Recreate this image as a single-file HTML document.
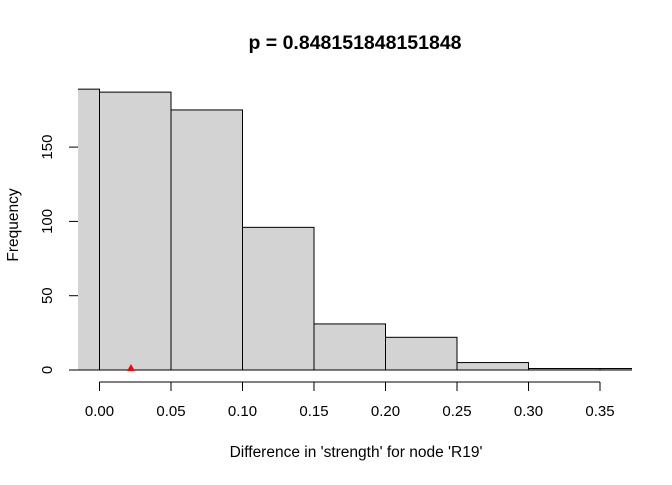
<!DOCTYPE html>
<html><head><meta charset="utf-8"><style>
body{margin:0;background:#fff}
svg text{font-family:"Liberation Sans",Arial,sans-serif}
</style></head><body>
<svg id="chart" width="672" height="480" xmlns="http://www.w3.org/2000/svg">
<defs><clipPath id="plotclip"><rect x="78" y="60" width="554" height="320"/></clipPath></defs>
<text x="355" y="49" text-anchor="middle" font-size="19.5" font-weight="bold">p = 0.848151848151848</text>
<text x="356" y="457" text-anchor="middle" font-size="15.5">Difference in 'strength' for node 'R19'</text>
<text transform="translate(18,225) rotate(-90)" text-anchor="middle" font-size="15.5">Frequency</text>
<g id="bars" clip-path="url(#plotclip)"></g>
<g id="axes"></g>
</svg>
<script>
const binStarts=[-0.05,0,0.05,0.10,0.15,0.20,0.25,0.30,0.35];
const counts=[189,187,175,96,31,22,5,1,1];
const binWidth=0.05;
const xTicks=[0,0.05,0.10,0.15,0.20,0.25,0.30,0.35];
const xTickLabels=["0.00","0.05","0.10","0.15","0.20","0.25","0.30","0.35"];
const yTicks=[0,50,100,150];
const observed=[0.022];
const NS="http://www.w3.org/2000/svg";
const X=v=>99.5+v*1430;
const Y=v=>370-v*1.486;
function mk(tag,attrs,parent){const e=document.createElementNS(NS,tag);for(const k in attrs)e.setAttribute(k,attrs[k]);parent.appendChild(e);return e;}
const bars=document.getElementById('bars'),axes=document.getElementById('axes');
binStarts.forEach((s,i)=>{
  const x0=X(s),x1=X(s+binWidth),y=Y(counts[i]);
  const r=mk('rect',{x:x0,y:y,width:x1-x0,height:370-y,fill:'#d3d3d3',stroke:'#000','stroke-width':1},bars);
  
  
});
observed.forEach(v=>{
  const t=mk('polygon',{points:`${X(v)-4},371 ${X(v)+4},371 ${X(v)},364`,fill:'#ff0000'},axes);
  
  
});
const xl=mk('line',{x1:X(xTicks[0]),x2:X(xTicks[xTicks.length-1]),y1:382,y2:382,stroke:'#000'},axes);


xTicks.forEach((v,i)=>{
  mk('line',{x1:X(v),x2:X(v),y1:382,y2:391,stroke:'#000'},axes);
  const t=mk('text',{x:X(v),y:416,'text-anchor':'middle','font-size':15},axes);
  t.textContent=xTickLabels[i];
  
  
});
yTicks.forEach(v=>{
  mk('line',{x1:69,x2:78,y1:Y(v),y2:Y(v),stroke:'#000'},axes);
  const t=mk('text',{transform:`translate(52,${Y(v)}) rotate(-90)`,'text-anchor':'middle','font-size':15},axes);
  t.textContent=String(v);
  
  
});
</script>
</body></html>
